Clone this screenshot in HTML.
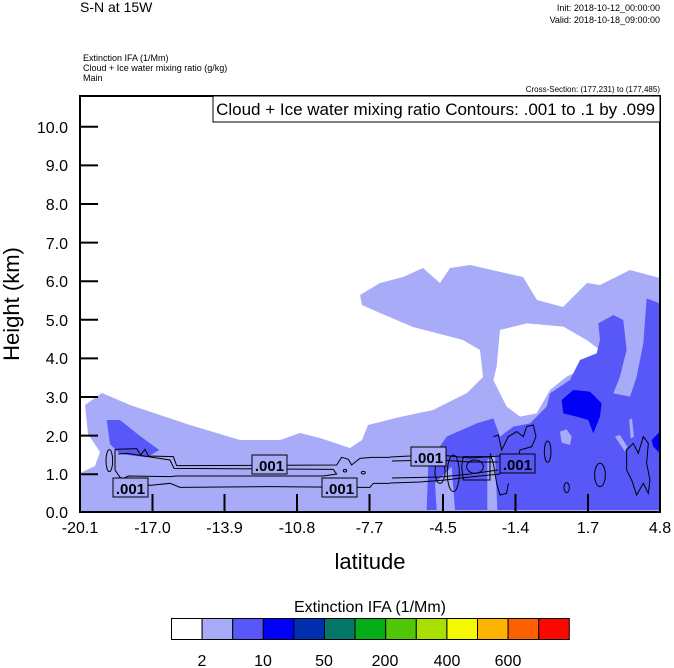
<!DOCTYPE html>
<html><head><meta charset="utf-8"><style>
body{margin:0;background:#fff}
svg{display:block;font-family:"Liberation Sans",sans-serif}
</style></head><body>
<svg width="674" height="668" viewBox="0 0 674 668" xmlns="http://www.w3.org/2000/svg">
<rect width="674" height="668" fill="#fff"/>
<text x="80" y="12" font-size="14">S-N at 15W</text>
<text x="660" y="11" font-size="9" text-anchor="end">Init: 2018-10-12_00:00:00</text>
<text x="660" y="23" font-size="9" text-anchor="end">Valid: 2018-10-18_09:00:00</text>
<text x="83" y="61" font-size="9">Extinction IFA   (1/Mm)</text>
<text x="83" y="71" font-size="9">Cloud + Ice water mixing ratio    (g/kg)</text>
<text x="83" y="81" font-size="9">Main</text>
<text x="660" y="92" font-size="8" text-anchor="end">Cross-Section: (177,231) to (177,485)</text>

<path fill="#a8acf8" d="M80,473 L95,466 L100,452 L88,434 L85,405 L102,393 L130,405 L190,425 L240,440 L280,440 L300,433 L320,438 L350,448 L362,440 L368,425 L380,422 L400,417 L433,410 L467,393 L483,377 L480,350 L463,340 L413,327 L380,313 L362,305 L360,295 L380,283 L403,277 L423,268 L440,283 L450,268 L470,265 L523,277 L537,300 L563,307 L587,283 L600,285 L630,270 L660,278 L660,512 L80,512 Z"/>
<g transform="translate(380,250) scale(0.3333)">
<path fill="#fff" d="M360,240 L440,220 L550,230 L620,270 L660,300 L640,340 L560,380 L510,420 L470,490 L420,500 L380,470 L340,390 L350,350 Z"/>
<path fill="#5858f8" d="M140,780 L145,640 L200,560 L290,520 L340,505 L360,560 L400,530 L450,520 L500,470 L510,430 L570,390 L600,330 L650,310 L660,270 L655,220 L700,195 L730,210 L740,300 L720,380 L700,430 L750,440 L770,380 L790,280 L800,145 L840,160 L840,780 Z"/>
<path fill="#a8acf8" d="M322,630 L345,615 L352,780 L322,780 Z M540,545 L560,538 L575,560 L570,585 L545,578 Z M165,700 L215,650 L225,780 L170,780 Z M705,560 L720,555 L742,590 L735,605 Z M748,510 L756,505 L762,560 L752,565 Z"/>
<path fill="#0000f4" d="M545,450 L580,420 L630,425 L665,460 L660,500 L640,550 L625,510 L590,500 L550,490 Z M815,570 L840,545 L840,610 L820,590 Z"/>
<g fill="none" stroke="#000" stroke-width="3">
<path d="M340,560 L355,555 L365,600 L385,560 L410,545 L430,560 L440,530 L460,525 L468,560 L455,590 L420,600 L410,640 L380,650"/>
<path d="M330,610 L340,640 L350,700 L360,735 L380,730 L385,700"/>
<ellipse cx="180" cy="665" rx="15" ry="35"/><ellipse cx="220" cy="670" rx="18" ry="55"/>
<ellipse cx="285" cy="650" rx="25" ry="20"/><ellipse cx="503" cy="605" rx="10" ry="32"/>
<ellipse cx="660" cy="675" rx="16" ry="35"/><ellipse cx="560" cy="713" rx="8" ry="15"/>
<path d="M740,600 L760,580 L775,610 L790,560 L805,580 L800,640 L810,690 L805,730 L790,700 L770,735 L755,690 L740,660 Z"/>
<path d="M250,620 L330,620 L330,690 L250,690 L245,650 Z"/>
</g>
</g>
<g transform="translate(70,370) scale(0.3333)">
<path fill="#5858f8" d="M110,150 L150,150 L200,190 L240,220 L268,240 L230,262 L150,252 L120,222 Z"/>
<g fill="none" stroke="#000" stroke-width="3">
<path d="M135,238 L200,236 L212,255 L225,238 L235,258 L310,260 L320,287 L800,285 L815,262 L835,268 L845,285 L870,265 L905,262 L960,262"/>
<path d="M960,340 L910,340 L900,352 L860,352 L600,350 L330,352 L300,340 L240,346 L150,322 L135,300 L135,238"/>
<path d="M145,252 L170,250 L300,270 L312,295 L790,298 L800,312 L760,318 L320,318 L300,320 L175,318 L150,330"/>
<ellipse cx="118" cy="272" rx="10" ry="33"/>
<ellipse cx="880" cy="308" rx="6" ry="4"/><ellipse cx="825" cy="302" rx="5" ry="4"/>
</g>
</g>
<g fill="none" stroke="#000" stroke-width="1">
<path d="M390,457 L410,456 L420,452 L440,455 L470,458 L500,456"/>
<path d="M390,483 L420,482 L445,480 L470,477 L500,474"/>
<path d="M392,461 L440,460 L470,462 L498,462"/>
<path d="M392,478 L440,477 L470,474 L498,470"/>
</g>
<g font-size="15" font-weight="bold" text-anchor="middle">
<rect x="113" y="478" width="35" height="19" fill="#a8acf8" stroke="#000"/><text x="130.5" y="494">.001</text>
<rect x="252" y="455" width="35" height="19" fill="#a8acf8" stroke="#000"/><text x="269.5" y="471">.001</text>
<rect x="322" y="478" width="35" height="19" fill="#a8acf8" stroke="#000"/><text x="339.5" y="494">.001</text>
<rect x="411" y="447" width="35" height="19" fill="#a8acf8" stroke="#000"/><text x="428.5" y="463">.001</text>
<rect x="500" y="454" width="35" height="19" fill="#5858f8" stroke="#000"/><text x="517.5" y="470">.001</text>
</g>
<rect x="80" y="96" width="580" height="416" fill="none" stroke="#000" stroke-width="2"/>
<rect x="213" y="96" width="447" height="26" fill="#fff" stroke="#000" stroke-width="1"/>
<text x="655" y="115" font-size="17" text-anchor="end">Cloud + Ice water mixing ratio Contours: .001 to .1 by .099</text>
<g stroke="#000" stroke-width="2">
<path d="M80,126.8h18M80,165.4h18M80,204h18M80,242.6h18M80,281.2h18M80,319.8h18M80,358.4h18M80,397h18M80,435.6h18M80,474.2h18"/>
<path d="M152.5,512v-18M224.5,512v-18M297,512v-18M369.5,512v-18M443,512v-18M515.5,512v-18M588,512v-18"/>
</g>
<g font-size="16" text-anchor="end">
<text x="68" y="133">10.0</text><text x="68" y="171">9.0</text><text x="68" y="210">8.0</text>
<text x="68" y="249">7.0</text><text x="68" y="287">6.0</text><text x="68" y="326">5.0</text>
<text x="68" y="364">4.0</text><text x="68" y="403">3.0</text><text x="68" y="442">2.0</text>
<text x="68" y="480">1.0</text><text x="68" y="518">0.0</text>
</g>
<g font-size="16" text-anchor="middle">
<text x="80" y="533">-20.1</text><text x="152.5" y="533">-17.0</text><text x="224.5" y="533">-13.9</text>
<text x="297" y="533">-10.8</text><text x="369.5" y="533">-7.7</text><text x="443" y="533">-4.5</text>
<text x="515.5" y="533">-1.4</text><text x="588" y="533">1.7</text><text x="660" y="533">4.8</text>
</g>
<text x="370" y="569" font-size="22" text-anchor="middle">latitude</text>
<text transform="translate(19,304) rotate(-90)" font-size="22" text-anchor="middle">Height (km)</text>
<text x="370" y="612" font-size="16" text-anchor="middle">Extinction IFA  (1/Mm)</text>
<g stroke="#000" stroke-width="1">
<rect x="171.5" y="618.5" width="30.6" height="21" fill="#ffffff"/>
<rect x="202.1" y="618.5" width="30.6" height="21" fill="#a8acf8"/>
<rect x="232.7" y="618.5" width="30.6" height="21" fill="#5858f8"/>
<rect x="263.3" y="618.5" width="30.6" height="21" fill="#0000f8"/>
<rect x="293.9" y="618.5" width="30.6" height="21" fill="#0030b0"/>
<rect x="324.5" y="618.5" width="30.6" height="21" fill="#047868"/>
<rect x="355.1" y="618.5" width="30.6" height="21" fill="#04ac18"/>
<rect x="385.7" y="618.5" width="30.6" height="21" fill="#50c808"/>
<rect x="416.3" y="618.5" width="30.6" height="21" fill="#a8e004"/>
<rect x="446.9" y="618.5" width="30.6" height="21" fill="#f4f800"/>
<rect x="477.5" y="618.5" width="30.6" height="21" fill="#fcb400"/>
<rect x="508.1" y="618.5" width="30.6" height="21" fill="#fc6000"/>
<rect x="538.7" y="618.5" width="30.6" height="21" fill="#fc0800"/>
</g>
<g font-size="16" text-anchor="middle">
<text x="202" y="666">2</text><text x="263" y="666">10</text><text x="324" y="666">50</text>
<text x="385" y="666">200</text><text x="447" y="666">400</text><text x="508" y="666">600</text>
</g>
</svg>
</body></html>
